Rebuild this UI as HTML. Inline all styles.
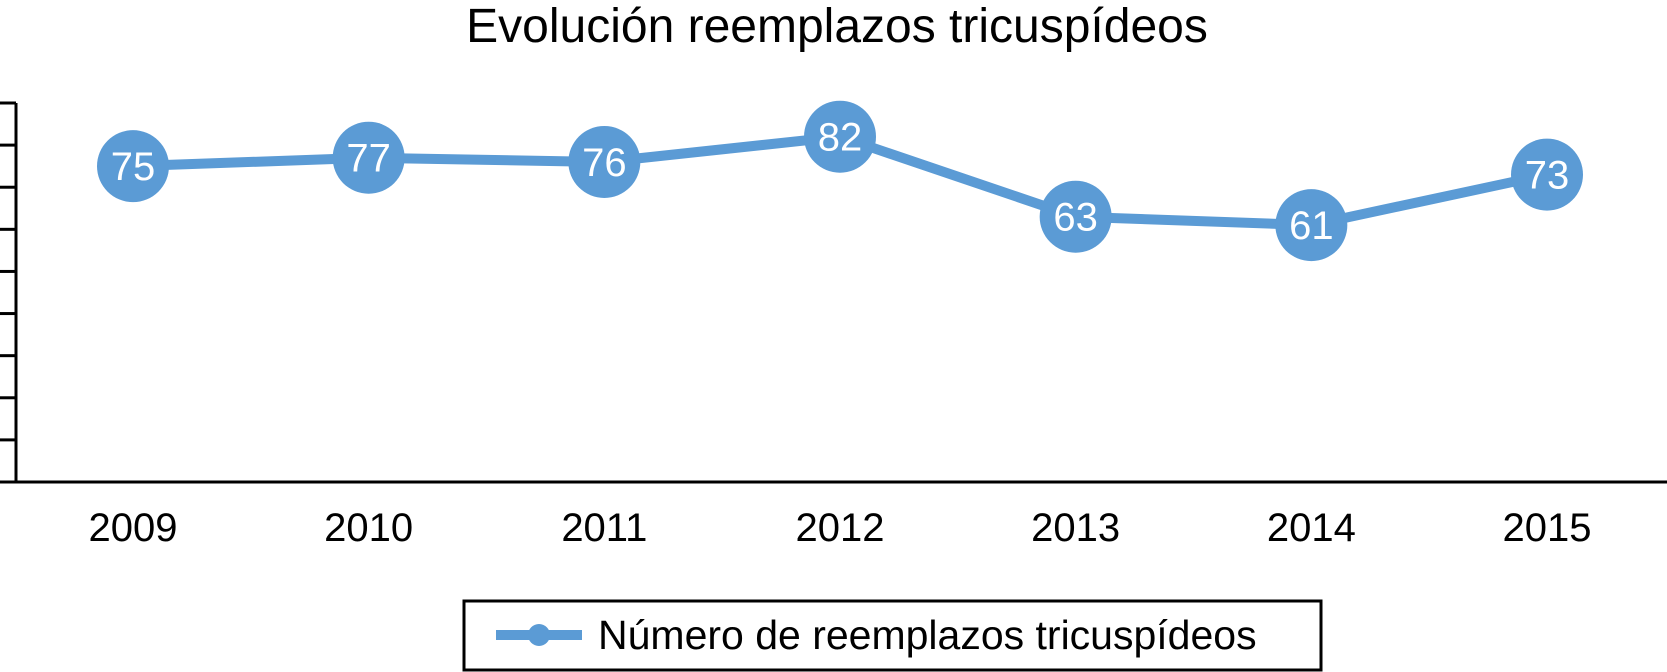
<!DOCTYPE html>
<html><head><meta charset="utf-8"><style>
body{margin:0;background:#fff;}
svg{display:block;font-family:"Liberation Sans",Arial,sans-serif;}
</style></head><body>
<svg id="chart" width="1667" height="672">
<text x="837" y="42" font-size="48" text-anchor="middle" fill="#000">Evolución reemplazos tricuspídeos</text>
<g id="axes"></g>
<g id="series"></g>
<g>
<rect x="464" y="601" width="857" height="69" fill="#fff" stroke="#000" stroke-width="3"/>
<line x1="496" y1="635" x2="582" y2="635" stroke="#5b9bd5" stroke-width="10"/>
<circle cx="539" cy="635" r="11" fill="#5b9bd5"/>
<text x="598" y="649" font-size="41" fill="#000">Número de reemplazos tricuspídeos</text>
</g>
</svg>
<script>
const categories=["2009","2010","2011","2012","2013","2014","2015"];
const values=[75,77,76,82,63,61,73];
const yTicks=[0,10,20,30,40,50,60,70,80,90];
const NS="http://www.w3.org/2000/svg";
const x0=133,x1=1547,yBase=482,yTop=103,yMax=90;
function xs(i){return x0+i*(x1-x0)/(categories.length-1);}
function ys(v){return yBase-(v/yMax)*(yBase-yTop);}
function mk(tag,attrs,parent){const e=document.createElementNS(NS,tag);for(const k in attrs)e.setAttribute(k,attrs[k]);parent.appendChild(e);return e;}
const axes=document.getElementById('axes'),ser=document.getElementById('series');
let a=mk('line',{x1:16,y1:ys(yMax),x2:16,y2:yBase,stroke:'#000','stroke-width':3},axes);


a=mk('line',{x1:0,y1:yBase,x2:1667,y2:yBase,stroke:'#000','stroke-width':3},axes);


yTicks.forEach(t=>{const l=mk('line',{x1:0,y1:ys(t),x2:16,y2:ys(t),stroke:'#000','stroke-width':3},axes);

});
categories.forEach((c,i)=>{const t=mk('text',{x:xs(i),y:541,'font-size':40,'text-anchor':'middle',fill:'#000'},axes);t.textContent=c;

});
const pl=mk('polyline',{points:values.map((v,i)=>xs(i)+','+ys(v)).join(' '),fill:'none',stroke:'#5b9bd5','stroke-width':10,'stroke-linejoin':'round'},ser);


values.forEach((v,i)=>{const c=mk('circle',{cx:xs(i),cy:ys(v),r:36,fill:'#5b9bd5'},ser);


const t=mk('text',{x:xs(i),y:ys(v)+14,'font-size':40,'text-anchor':'middle',fill:'#fff'},ser);t.textContent=v;

});
</script>
</body></html>
